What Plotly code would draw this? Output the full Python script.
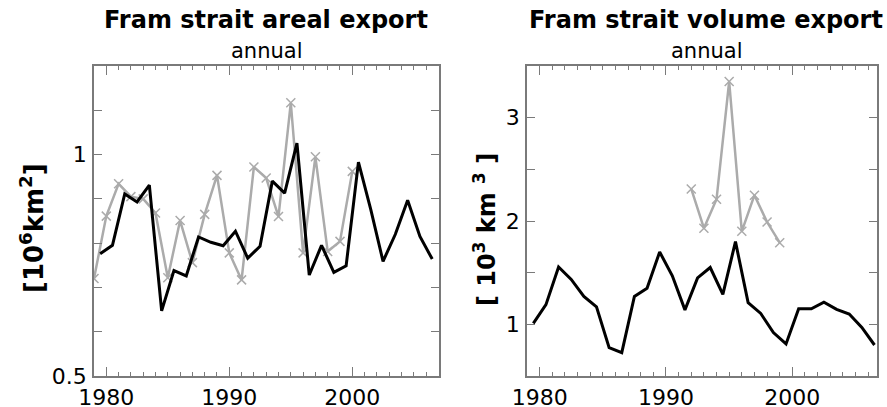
import plotly.graph_objects as go

W, H = 887, 407

# ---------------- data ----------------
model_years = [1979.5, 1980.5, 1981.5, 1982.5, 1983.5, 1984.5, 1985.5, 1986.5, 1987.5, 1988.5,
               1989.5, 1990.5, 1991.5, 1992.5, 1993.5, 1994.5, 1995.5, 1996.5, 1997.5, 1998.5,
               1999.5, 2000.5, 2001.5, 2002.5, 2003.5, 2004.5, 2005.5, 2006.5]
areal_model = [0.776, 0.795, 0.911, 0.893, 0.931, 0.647, 0.738, 0.726, 0.814, 0.802,
               0.794, 0.827, 0.766, 0.793, 0.940, 0.913, 1.026, 0.728, 0.795, 0.734,
               0.749, 0.983, 0.876, 0.759, 0.820, 0.897, 0.815, 0.764]

areal_obs_years = [1979, 1980, 1981, 1982, 1983, 1984, 1985, 1986, 1987, 1988, 1989,
                   1990, 1991, 1992, 1993, 1994, 1995, 1996, 1997, 1998, 1999, 2000]
areal_obs = [0.720, 0.861, 0.934, 0.905, 0.900, 0.868, 0.722, 0.851, 0.756, 0.865, 0.953,
             0.778, 0.717, 0.972, 0.947, 0.860, 1.117, 0.778, 0.995, 0.781, 0.804, 0.962]

volume_model = [1.01, 1.19, 1.555, 1.435, 1.27, 1.17, 0.775, 0.726, 1.27, 1.35,
                1.70, 1.47, 1.14, 1.45, 1.55, 1.29, 1.80, 1.21, 1.105, 0.92,
                0.81, 1.15, 1.15, 1.215, 1.145, 1.10, 0.97, 0.80]

volume_obs_years = [1992, 1993, 1994, 1995, 1996, 1997, 1998, 1999]
volume_obs = [2.31, 1.93, 2.21, 3.35, 1.90, 2.25, 1.99, 1.79]

x_tickvals = [1980, 1990, 2000]
left_tickvals = [0.5, 0.6, 0.7, 0.8, 0.9, 1.0, 1.1]
left_ticktext = ["0.5", "", "", "", "", "1", ""]
right_tickvals = [1.0, 1.5, 2.0, 2.5, 3.0]
right_ticktext = ["1", "", "2", "", "3"]

# ---------------- styles ----------------
FONT = "DejaVu Sans"
BLACK = "#000000"
GRAY = "#ababab"
FRAME = "#7a7a7a"

def px_x(p):
    return p / W

def px_y(p):
    return 1 - p / H

fig = go.Figure()

fig.add_trace(go.Scatter(x=areal_obs_years, y=areal_obs, mode="lines+markers",
                         line=dict(color=GRAY, width=2.5),
                         marker=dict(symbol="x-thin-open", size=9, line=dict(color=GRAY, width=1.5)),
                         xaxis="x", yaxis="y", showlegend=False))
fig.add_trace(go.Scatter(x=model_years, y=areal_model, mode="lines",
                         line=dict(color=BLACK, width=3),
                         xaxis="x", yaxis="y", showlegend=False))
fig.add_trace(go.Scatter(x=volume_obs_years, y=volume_obs, mode="lines+markers",
                         line=dict(color=GRAY, width=2.5),
                         marker=dict(symbol="x-thin-open", size=9, line=dict(color=GRAY, width=1.5)),
                         xaxis="x2", yaxis="y2", showlegend=False))
fig.add_trace(go.Scatter(x=model_years, y=volume_model, mode="lines",
                         line=dict(color=BLACK, width=3),
                         xaxis="x2", yaxis="y2", showlegend=False))

ydom = [px_y(376), px_y(66)]

common_x = dict(
    automargin=False,
    showgrid=False, zeroline=False, showline=True, linecolor=FRAME, linewidth=1.5,
    mirror="allticks", ticks="inside", ticklen=9, tickwidth=1.2, tickcolor=FRAME,
    tickvals=x_tickvals, ticklabelstandoff=1,
    minor=dict(ticks="inside", ticklen=4, dtick=1, tickcolor=FRAME, tickwidth=1, showgrid=False),
    tickfont=dict(family=FONT, size=22, color=BLACK),
)
common_y = dict(
    automargin=False,
    showgrid=False, zeroline=False, showline=True, linecolor=FRAME, linewidth=1.5,
    mirror="allticks", ticks="inside", ticklen=8, tickwidth=1.2, tickcolor=FRAME,
    ticklabelstandoff=1,
    tickfont=dict(family=FONT, size=22, color=BLACK),
)

fig.update_layout(
    width=W, height=H,
    margin=dict(l=0, r=0, t=0, b=0, autoexpand=False),
    paper_bgcolor="white", plot_bgcolor="white",
    xaxis=dict(domain=[px_x(94), px_x(439)], range=[1979, 2007.05], anchor="y", **common_x),
    yaxis=dict(domain=ydom, range=[0.5, 1.2], anchor="x",
               tickvals=left_tickvals, ticktext=left_ticktext, **common_y),
    xaxis2=dict(domain=[px_x(527), px_x(877)], range=[1979, 2006.7], anchor="y2", **common_x),
    yaxis2=dict(domain=ydom, range=[0.5, 3.5], anchor="x2",
                tickvals=right_tickvals, ticktext=right_ticktext, **common_y),
)

ann = []
ann.append(dict(text="Fram strait areal export", x=px_x(266), y=px_y(20),
                font=dict(family=FONT, size=24, color=BLACK, weight="bold")))
ann.append(dict(text="annual", x=px_x(267), y=px_y(51),
                font=dict(family=FONT, size=21, color=BLACK)))
ann.append(dict(text="Fram strait volume export", x=px_x(706), y=px_y(20),
                font=dict(family=FONT, size=24, color=BLACK, weight="bold")))
ann.append(dict(text="annual", x=px_x(707), y=px_y(51),
                font=dict(family=FONT, size=21, color=BLACK)))
ann.append(dict(text="[10<sup>6</sup>km<sup>2</sup>]", x=px_x(32), y=px_y(228), textangle=-90,
                font=dict(family=FONT, size=26, color=BLACK, weight="bold")))
ann.append(dict(text="[ 10<sup>3</sup> km <sup>3</sup> ]", x=px_x(485), y=px_y(230), textangle=-90,
                font=dict(family=FONT, size=24, color=BLACK, weight="bold")))
for a in ann:
    a.update(xref="paper", yref="paper", xanchor="center", yanchor="middle", showarrow=False)
fig.update_layout(annotations=ann)

fig.write_html("out.html")
